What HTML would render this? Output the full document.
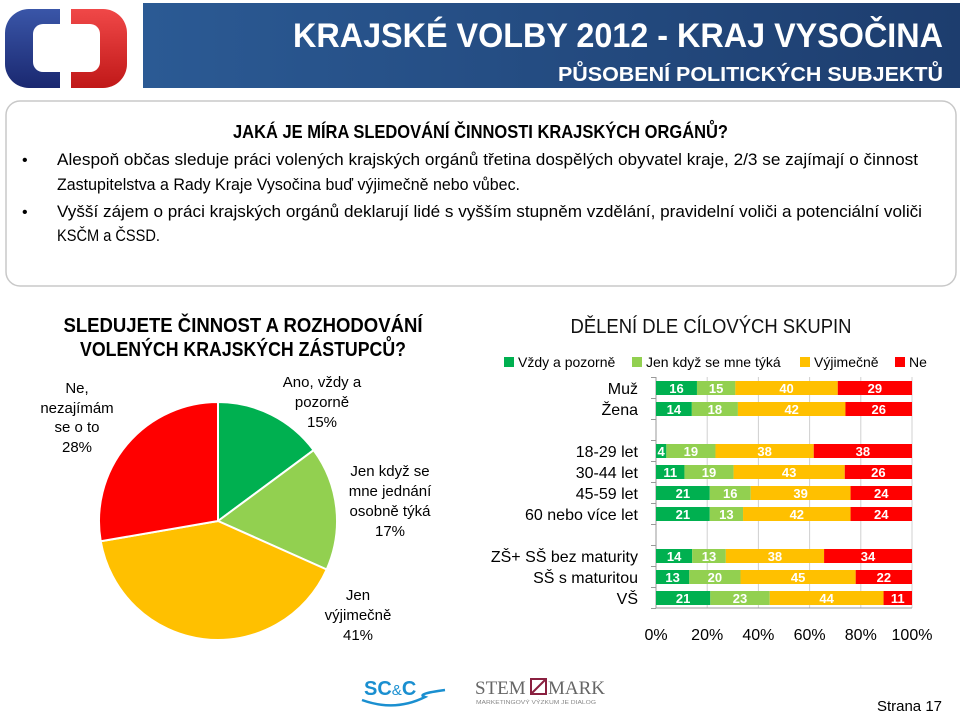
<!DOCTYPE html>
<html><head><meta charset="utf-8"><style>
body{margin:0;background:#fff}
svg{display:block;font-family:"Liberation Sans",sans-serif}
</style></head><body>
<svg width="960" height="714" viewBox="0 0 960 714" xmlns="http://www.w3.org/2000/svg">
<defs>
<linearGradient id="bn" x1="0" y1="0" x2="1" y2="0"><stop offset="0" stop-color="#2b5a94"/><stop offset="1" stop-color="#1d3d6e"/></linearGradient>
<linearGradient id="lb" x1="0" y1="0" x2="0" y2="1"><stop offset="0" stop-color="#3a56a8"/><stop offset="1" stop-color="#1a2870"/></linearGradient>
<linearGradient id="lr" x1="0" y1="0" x2="0" y2="1"><stop offset="0" stop-color="#f04848"/><stop offset="1" stop-color="#c01818"/></linearGradient>
<clipPath id="cl"><rect x="0" y="0" width="60" height="100"/></clipPath>
<clipPath id="cr"><rect x="71" y="0" width="70" height="100"/></clipPath>
</defs>
<g>
<rect x="5" y="9" width="122" height="79" rx="24" fill="url(#lb)" clip-path="url(#cl)"/>
<rect x="5" y="9" width="122" height="79" rx="24" fill="url(#lr)" clip-path="url(#cr)"/>
<rect x="33" y="24" width="67" height="48" rx="10" fill="#fff"/>
</g>
<rect x="143" y="3" width="817" height="85" fill="url(#bn)"/>
<text x="943" y="47" text-anchor="end" fill="#fff" font-size="34" font-weight="bold" textLength="650" lengthAdjust="spacingAndGlyphs">KRAJSKÉ VOLBY 2012 - KRAJ VYSOČINA</text>
<text x="943" y="81" text-anchor="end" fill="#fff" font-size="20" font-weight="bold" textLength="385" lengthAdjust="spacingAndGlyphs">PŮSOBENÍ POLITICKÝCH SUBJEKTŮ</text>
<g>
<rect x="6" y="101" width="950" height="185" rx="14" fill="#fff" stroke="#c8c8c8" stroke-width="1.5"/>
<text x="233" y="138" font-size="18" font-weight="bold" textLength="495" lengthAdjust="spacingAndGlyphs">JAKÁ JE MÍRA SLEDOVÁNÍ ČINNOSTI KRAJSKÝCH ORGÁNŮ?</text>
<text x="22" y="165" font-size="16">•</text>
<text x="57" y="165" font-size="17" textLength="861" lengthAdjust="spacingAndGlyphs">Alespoň občas sleduje práci volených krajských orgánů třetina dospělých obyvatel kraje, 2/3 se zajímají o činnost</text>
<text x="57" y="190" font-size="17" textLength="463" lengthAdjust="spacingAndGlyphs">Zastupitelstva a Rady Kraje Vysočina buď výjimečně nebo vůbec.</text>
<text x="22" y="217" font-size="16">•</text>
<text x="57" y="217" font-size="17" textLength="865" lengthAdjust="spacingAndGlyphs">Vyšší zájem o práci krajských orgánů deklarují lidé s vyšším stupněm vzdělání, pravidelní voliči a potenciální voliči</text>
<text x="57" y="241" font-size="17" textLength="103" lengthAdjust="spacingAndGlyphs">KSČM a ČSSD.</text>
</g>
<text font-size="20" font-weight="bold" text-anchor="middle"><tspan x="243" y="332" textLength="359" lengthAdjust="spacingAndGlyphs">SLEDUJETE ČINNOST A ROZHODOVÁNÍ</tspan><tspan x="243" y="356" textLength="326" lengthAdjust="spacingAndGlyphs">VOLENÝCH KRAJSKÝCH ZÁSTUPCŮ?</tspan></text>
<g id="pie"></g>
<g font-size="15" text-anchor="middle">
<text><tspan x="77" y="393">Ne,</tspan><tspan x="77" y="413">nezajímám</tspan><tspan x="77" y="432">se o to</tspan><tspan x="77" y="452">28%</tspan></text>
<text><tspan x="322" y="387">Ano, vždy a</tspan><tspan x="322" y="407">pozorně</tspan><tspan x="322" y="427">15%</tspan></text>
<text><tspan x="390" y="476">Jen když se</tspan><tspan x="390" y="496">mne jednání</tspan><tspan x="390" y="516">osobně týká</tspan><tspan x="390" y="536">17%</tspan></text>
<text><tspan x="358" y="600">Jen</tspan><tspan x="358" y="620">výjimečně</tspan><tspan x="358" y="640">41%</tspan></text>
</g>
<text x="711" y="333" text-anchor="middle" font-size="20" fill="#111" textLength="281" lengthAdjust="spacingAndGlyphs">DĚLENÍ DLE CÍLOVÝCH SKUPIN</text>
<g id="legend" font-size="14"></g>
<g id="bars"></g>
<g>
<text x="364" y="695" font-size="20" font-weight="bold" fill="#1a8fd0">SC<tspan font-size="15" font-weight="normal">&amp;</tspan>C</text>
<path d="M362 700 Q395 712 425 697 Q415 694 445 690" stroke="#1a8fd0" stroke-width="2.5" fill="none"/>
</g>
<g>
<text x="475" y="694" font-family="Liberation Serif,serif" font-size="19" fill="#666">STEM</text>
<rect x="531" y="679" width="15" height="15" fill="none" stroke="#8a2040" stroke-width="2"/>
<line x1="532" y1="693" x2="545" y2="680" stroke="#8a2040" stroke-width="2"/>
<text x="548" y="694" font-family="Liberation Serif,serif" font-size="19" fill="#666">MARK</text>
<text x="476" y="704" font-size="5" fill="#888" textLength="120" lengthAdjust="spacingAndGlyphs">MARKETINGOVÝ VÝZKUM JE DIALOG</text>
</g>
<text x="942" y="711" text-anchor="end" font-size="15">Strana 17</text>
<script>
const ns="http://www.w3.org/2000/svg";
const colors=["#00b050","#92d050","#ffc000","#ff0000"];
const pieValues=[15,17,41,28];
const seriesNames=["Vždy a pozorně","Jen když se mne týká","Výjimečně","Ne"];
const categories=["Muž","Žena","","18-29 let","30-44 let","45-59 let","60 nebo více let","","ZŠ+ SŠ bez maturity","SŠ s maturitou","VŠ"];
const sVzdy=[16,14,null,4,11,21,21,null,14,13,21];
const sKdyz=[15,18,null,19,19,16,13,null,13,20,23];
const sVyj=[40,42,null,38,43,39,42,null,38,45,44];
const sNe=[29,26,null,38,26,24,24,null,34,22,11];
const tickLabels=["0%","20%","40%","60%","80%","100%"];
function mk(t,a,p){const e=document.createElementNS(ns,t);for(const k in a)e.setAttribute(k,a[k]);p.appendChild(e);return e;}
const pie=document.getElementById("pie");
const cx=218,cy=521,r=119;
const tot=pieValues.reduce((a,b)=>a+b,0);
let ang=0;
pieValues.forEach((v,i)=>{
 const a0=ang/tot*2*Math.PI,a1=(ang+v)/tot*2*Math.PI;ang+=v;
 const x0=cx+r*Math.sin(a0),y0=cy-r*Math.cos(a0),x1=cx+r*Math.sin(a1),y1=cy-r*Math.cos(a1);
 const p=mk("path",{d:`M${cx} ${cy} L${x0} ${y0} A${r} ${r} 0 ${a1-a0>Math.PI?1:0} 1 ${x1} ${y1} Z`,fill:colors[i],stroke:"#fff","stroke-width":2},pie);
 
 
});
const lg=document.getElementById("legend");
const lgX=[504,632,800,895];
seriesNames.forEach((n,i)=>{
 const s=mk("rect",{x:lgX[i],y:357,width:10,height:10,fill:colors[i]},lg);
 
 
 const t=mk("text",{x:lgX[i]+14,y:367},lg);t.textContent=n;
 
 
});
const g=document.getElementById("bars");
const X0=656,X1=912;
const xs=v=>X0+(X1-X0)*v/100;
const ys=i=>388+i*21;
for(let k=0;k<=5;k++){
 const gx=xs(k*20);
 const l=mk("line",{x1:gx,x2:gx,y1:377,y2:608,stroke:"#d0d0d0","stroke-width":1},g);
 
 
 const t=mk("text",{x:gx,y:640,"text-anchor":"middle","font-size":16},g);t.textContent=tickLabels[k];
 
 
}
mk("line",{x1:X0,x2:X0,y1:377,y2:608,stroke:"#999"},g);
mk("line",{x1:X0,x2:X1,y1:608,y2:608,stroke:"#999"},g);
for(let i=0;i<=categories.length;i++){mk("line",{x1:X0-5,x2:X0,y1:ys(i)-10.5,y2:ys(i)-10.5,stroke:"#999"},g);}
const series=[sVzdy,sKdyz,sVyj,sNe];
categories.forEach((c,i)=>{
 if(sVzdy[i]==null)return;
 const t=mk("text",{x:638,y:ys(i)+6,"text-anchor":"end","font-size":16},g);t.textContent=c;
 
 
 const sum=series.reduce((a,s)=>a+s[i],0);
 let acc=0;
 series.forEach((s,j)=>{
  const v=s[i]/sum*100;const xa=xs(acc),xb=xs(acc+v);acc+=v;
  const b=mk("rect",{x:xa,y:ys(i)-7,width:xb-xa,height:14,fill:colors[j]},g);
  
  
  const vt=mk("text",{x:(xa+xb)/2,y:ys(i)+5,"text-anchor":"middle","font-size":13,"font-weight":"bold",fill:"#fff"},g);vt.textContent=s[i];
  
  
 });
});
</script>
</svg>
</body></html>
